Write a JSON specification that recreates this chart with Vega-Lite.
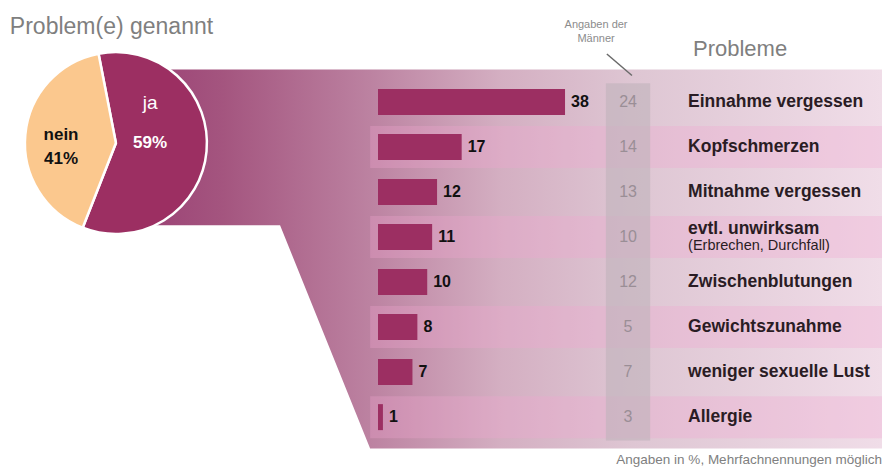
{
  "$schema": "https://vega.github.io/schema/vega-lite/v6.json",
  "width": 882,
  "height": 475,
  "autosize": {"type": "fit", "contains": "padding"},
  "padding": 0,
  "background": "white",
  "config": {"view": {"stroke": null}, "font": "Liberation Sans"},
  "data": {"values": [{}]},
  "datasets": {
    "problems": [
      {"problem": "Einnahme vergessen", "pct": 38, "maenner": 24, "row": 1},
      {"problem": "Kopfschmerzen", "pct": 17, "maenner": 14, "row": 2},
      {"problem": "Mitnahme vergessen", "pct": 12, "maenner": 13, "row": 3},
      {"problem": "evtl. unwirksam", "sub": "(Erbrechen, Durchfall)", "pct": 11, "maenner": 10, "row": 4},
      {"problem": "Zwischenblutungen", "pct": 10, "maenner": 12, "row": 5},
      {"problem": "Gewichtszunahme", "pct": 8, "maenner": 5, "row": 6},
      {"problem": "weniger sexuelle Lust", "pct": 7, "maenner": 7, "row": 7},
      {"problem": "Allergie", "pct": 1, "maenner": 3, "row": 8}
    ],
    "pie": [
      {"answer": "ja", "share": 59},
      {"answer": "nein", "share": 41}
    ],
    "funnel": [
      {"a": -46.3, "top": 0.283, "bottom": 3.739},
      {"a": -19.9, "top": 0.283, "bottom": 3.739},
      {"a": -1.6, "top": 0.283, "bottom": 8.696},
      {"a": 102.4, "top": 0.283, "bottom": 8.696}
    ]
  },
  "resolve": {"scale": {"color": "independent"}},
  "layer": [
    {
      "data": {"name": "funnel"},
      "mark": {
        "type": "area",
        "orient": "vertical",
        "interpolate": "linear",
        "color": {
          "gradient": "linear", "x1": 0, "y1": 0, "x2": 1, "y2": 0,
          "stops": [
            {"offset": 0, "color": "#9c4476"},
            {"offset": 0.1, "color": "#a4557f"},
            {"offset": 0.3, "color": "#bc82a1"},
            {"offset": 0.48, "color": "#d4afc2"},
            {"offset": 0.66, "color": "#dec6d3"},
            {"offset": 1, "color": "#f0dde8"}
          ]
        }
      },
      "encoding": {
        "x": {"field": "a", "type": "quantitative", "scale": {"domain": [-76.8, 102.4], "nice": false, "zero": false}, "axis": null},
        "y": {"field": "top", "type": "quantitative", "scale": {"domain": [-1.152, 9.174], "nice": false, "zero": false, "reverse": true}, "axis": null},
        "y2": {"field": "bottom"}
      }
    },
    {
      "data": {"name": "problems"},
      "transform": [{"filter": "datum.row % 2 == 0"}],
      "mark": {"type": "bar", "orient": "horizontal", "height": 42, "color": "#f2a4cf", "opacity": 0.3},
      "encoding": {
        "y": {"field": "row", "type": "quantitative"},
        "x": {"datum": -1.6},
        "x2": {"datum": 102.4}
      }
    },
    {
      "mark": {"type": "rect", "color": "#bfb3bb", "opacity": 0.6},
      "encoding": {
        "x": {"datum": 46.3},
        "x2": {"datum": 55.3},
        "y": {"datum": 0.587},
        "y2": {"datum": 8.52}
      }
    },
    {
      "data": {"name": "problems"},
      "mark": {"type": "bar", "orient": "horizontal", "height": 26, "color": "#9c2f62"},
      "encoding": {
        "y": {"field": "row", "type": "quantitative"},
        "x": {"field": "pct", "type": "quantitative"},
        "x2": {"datum": 0}
      }
    },
    {
      "data": {"name": "problems"},
      "mark": {"type": "text", "align": "left", "baseline": "middle", "dx": 6, "fontWeight": "bold", "fontSize": 16, "color": "#111111"},
      "encoding": {
        "y": {"field": "row", "type": "quantitative"},
        "x": {"field": "pct", "type": "quantitative"},
        "text": {"field": "pct", "type": "quantitative"}
      }
    },
    {
      "data": {"name": "problems"},
      "mark": {"type": "text", "align": "center", "baseline": "middle", "fontSize": 16, "color": "#9a8e96"},
      "encoding": {
        "y": {"field": "row", "type": "quantitative"},
        "x": {"datum": 50.8},
        "text": {"field": "maenner", "type": "quantitative"}
      }
    },
    {
      "data": {"name": "problems"},
      "transform": [{"filter": "datum.row != 4"}],
      "mark": {"type": "text", "align": "left", "baseline": "middle", "fontWeight": "bold", "fontSize": 17.5, "color": "#2a1c24"},
      "encoding": {
        "y": {"field": "row", "type": "quantitative"},
        "x": {"datum": 63.0},
        "text": {"field": "problem", "type": "nominal"}
      }
    },
    {
      "data": {"name": "problems"},
      "transform": [{"filter": "datum.row == 4"}],
      "mark": {"type": "text", "align": "left", "baseline": "middle", "dy": -8, "fontWeight": "bold", "fontSize": 17.5, "color": "#2a1c24"},
      "encoding": {
        "y": {"field": "row", "type": "quantitative"},
        "x": {"datum": 63.0},
        "text": {"field": "problem", "type": "nominal"}
      }
    },
    {
      "data": {"name": "problems"},
      "transform": [{"filter": "datum.row == 4"}],
      "mark": {"type": "text", "align": "left", "baseline": "middle", "dy": 9, "fontSize": 14.5, "color": "#2a1c24"},
      "encoding": {
        "y": {"field": "row", "type": "quantitative"},
        "x": {"datum": 63.0},
        "text": {"field": "sub", "type": "nominal"}
      }
    },
    {
      "data": {"name": "pie"},
      "mark": {"type": "arc", "outerRadius": 91, "stroke": "white", "strokeWidth": 2.5},
      "encoding": {
        "theta": {"field": "share", "type": "quantitative", "stack": true, "scale": {"range": [-0.192, 6.091]}},
        "color": {"field": "answer", "type": "nominal", "scale": {"domain": ["ja", "nein"], "range": ["#9c2f62", "#fbc88e"]}, "legend": null},
        "order": {"field": "answer", "sort": "ascending"},
        "x": {"datum": -53.25},
        "y": {"datum": 1.913}
      }
    },
    {
      "mark": {"type": "text", "text": "ja", "align": "center", "baseline": "middle", "fontSize": 19, "color": "white"},
      "encoding": {"x": {"datum": -46.3}, "y": {"datum": 1.022}}
    },
    {
      "mark": {"type": "text", "text": "59%", "align": "center", "baseline": "middle", "fontSize": 17, "fontWeight": "bold", "color": "white"},
      "encoding": {"x": {"datum": -46.3}, "y": {"datum": 1.913}}
    },
    {
      "mark": {"type": "text", "text": "nein", "align": "center", "baseline": "middle", "fontSize": 17, "fontWeight": "bold", "color": "#111111"},
      "encoding": {"x": {"datum": -64.4}, "y": {"datum": 1.739}}
    },
    {
      "mark": {"type": "text", "text": "41%", "align": "center", "baseline": "middle", "fontSize": 17, "fontWeight": "bold", "color": "#111111"},
      "encoding": {"x": {"datum": -64.4}, "y": {"datum": 2.261}}
    },
    {
      "mark": {"type": "text", "text": "Problem(e)  genannt", "align": "left", "baseline": "middle", "fontSize": 23, "color": "#7f7f7f"},
      "encoding": {"x": {"datum": -74.8}, "y": {"datum": -0.674}}
    },
    {
      "mark": {"type": "text", "text": "Angaben der", "align": "center", "baseline": "middle", "fontSize": 11, "color": "#8c8c8c"},
      "encoding": {"x": {"datum": 44.3}, "y": {"datum": -0.717}}
    },
    {
      "mark": {"type": "text", "text": "Männer", "align": "center", "baseline": "middle", "fontSize": 11, "color": "#8c8c8c"},
      "encoding": {"x": {"datum": 44.3}, "y": {"datum": -0.391}}
    },
    {
      "mark": {"type": "rule", "color": "#6a6a6a", "strokeWidth": 1.5},
      "encoding": {"x": {"datum": 46.5}, "y": {"datum": -0.065}, "x2": {"datum": 51.6}, "y2": {"datum": 0.413}}
    },
    {
      "mark": {"type": "text", "text": "Probleme", "align": "left", "baseline": "middle", "fontSize": 22, "color": "#7f7f7f"},
      "encoding": {"x": {"datum": 64.0}, "y": {"datum": -0.174}}
    },
    {
      "mark": {"type": "text", "text": "Angaben in %, Mehrfachnennungen möglich", "align": "right", "baseline": "middle", "fontSize": 13.5, "color": "#808080"},
      "encoding": {"x": {"datum": 102.4}, "y": {"datum": 8.957}}
    }
  ]
}
